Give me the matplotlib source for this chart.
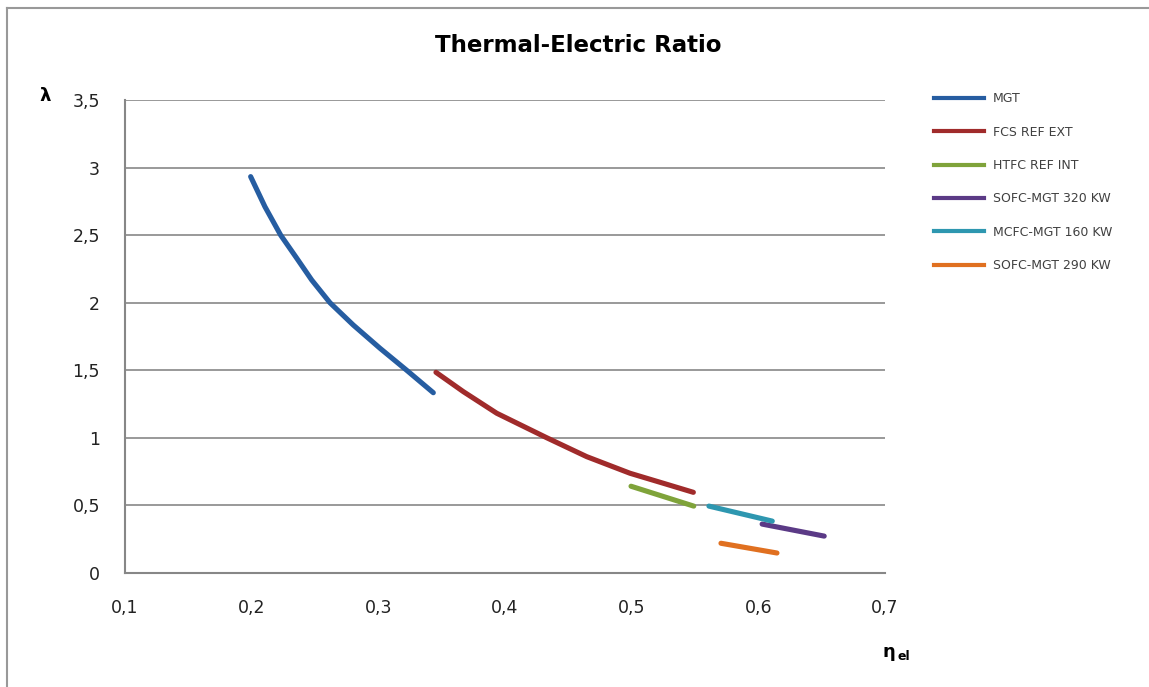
import matplotlib.pyplot as plt
from matplotlib.lines import Line2D

# values
mgt_eta = [0.1992, 0.2105, 0.2229, 0.2356, 0.2474, 0.2618, 0.2802, 0.3013,
           0.3224, 0.3434]
mgt_lam = [2.933, 2.710, 2.500, 2.329, 2.168, 2.000, 1.835, 1.663, 1.500,
           1.334]

fcs_eta = [0.3455, 0.3671, 0.3935, 0.4329, 0.4645, 0.4987, 0.5250, 0.5487]
fcs_lam = [1.485, 1.342, 1.182, 1.001, 0.861, 0.738, 0.664, 0.597]

htfc_eta = [0.4995, 0.549]
htfc_lam = [0.642, 0.495]

sofc320_eta = [0.603, 0.652]
sofc320_lam = [0.362, 0.273]

mcfc160_eta = [0.561, 0.611]
mcfc160_lam = [0.495, 0.384]

sofc290_eta = [0.5705, 0.6147]
sofc290_lam = [0.220, 0.148]

labels = ["MGT", "FCS REF EXT", "HTFC REF INT", "SOFC-MGT 320 KW",
          "MCFC-MGT 160 KW", "SOFC-MGT 290 KW"]
colors = ["#265DA1", "#A02B2B", "#7FA33A", "#5B3A86", "#2E97B0", "#E07020"]

xticks = [0.1, 0.2, 0.3, 0.4, 0.5, 0.6, 0.7]
xtick_labels = ["0,1", "0,2", "0,3", "0,4", "0,5", "0,6", "0,7"]
yticks = [0, 0.5, 1, 1.5, 2, 2.5, 3, 3.5]
ytick_labels = ["0", "0,5", "1", "1,5", "2", "2,5", "3", "3,5"]

W, H = 1149, 687
fig = plt.figure(figsize=(W / 100, H / 100), dpi=100)
ax = fig.add_axes([125 / W, 1 - 573 / H, (885 - 125) / W, (573 - 100) / H])

grid_col = "#878787"
series = [(mgt_eta, mgt_lam), (fcs_eta, fcs_lam), (htfc_eta, htfc_lam),
          (sofc320_eta, sofc320_lam), (mcfc160_eta, mcfc160_lam),
          (sofc290_eta, sofc290_lam)]
for (x, y), c, lab in zip(series, colors, labels):
    ax.plot(x, y, color=c, lw=3.7, solid_capstyle="round",
            solid_joinstyle="round", label=lab, zorder=3)

ax.set_xlim(0.1, 0.7)
ax.set_ylim(0, 3.5)
ax.set_xticks(xticks)
ax.set_xticklabels(xtick_labels)
ax.set_yticks(yticks)
ax.set_yticklabels(ytick_labels)
ax.tick_params(length=0, labelsize=12.5, colors="#222222")
ax.tick_params(axis="y", pad=18)
ax.tick_params(axis="x", pad=19)
ax.yaxis.grid(True, color=grid_col, lw=1.2)
ax.set_axisbelow(True)
for s in ["top", "right"]:
    ax.spines[s].set_visible(False)
for s in ["left", "bottom"]:
    ax.spines[s].set_color(grid_col)
    ax.spines[s].set_linewidth(1.5)

# legend on the right
handles = [Line2D([], [], color=c, lw=3) for c in colors]
leg = fig.legend(handles, labels, loc="upper left",
                 bbox_to_anchor=(928 / W, 1 - 86 / H), frameon=False,
                 fontsize=9, labelspacing=1.63, handlelength=4.0,
                 handletextpad=0.72, borderpad=0)
for t in leg.get_texts():
    t.set_color("#404040")

fig.text(578 / W, 1 - 46 / H, "Thermal-Electric Ratio", ha="center",
         va="center", fontsize=16.5, fontweight="bold")
fig.text(45 / W, 1 - 96 / H, "λ", ha="center", va="center",
         fontsize=13, fontweight="bold")
fig.text(883 / W, 1 - 652 / H, "η", ha="left", va="center",
         fontsize=13, fontweight="bold")
fig.text(897 / W, 1 - 657 / H, "el", ha="left", va="center",
         fontsize=9, fontweight="bold")

# chart border (left and top edges visible)
fig.add_artist(Line2D([7 / W, 7 / W], [0, 1 - 8 / H], color="#999999",
                      lw=1.5, transform=fig.transFigure))
fig.add_artist(Line2D([7 / W, 1], [1 - 8 / H, 1 - 8 / H], color="#999999",
                      lw=1.5, transform=fig.transFigure))

fig.savefig("out.png", dpi=100)
